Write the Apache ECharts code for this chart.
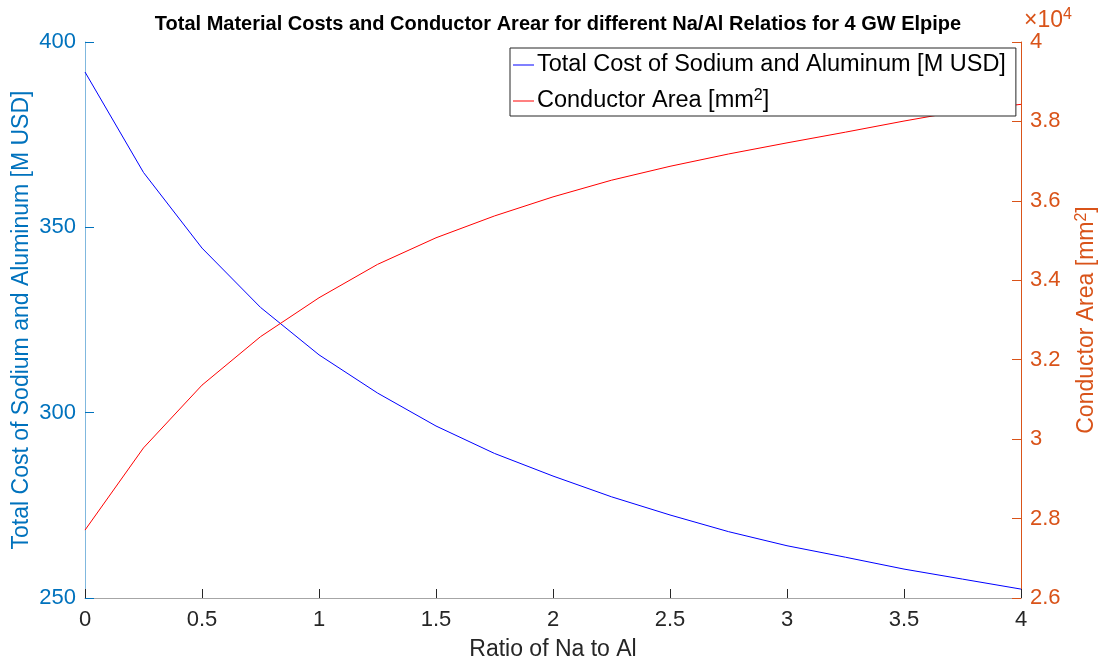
<!DOCTYPE html>
<html>
<head>
<meta charset="utf-8">
<script src="https://cdn.jsdelivr.net/npm/echarts@6/dist/echarts.min.js"></script>
<style>
  html, body { margin: 0; padding: 0; background: #fff; }
  #chart { width: 1102px; height: 663px; }
</style>
</head>
<body>
<div id="chart"></div>
<script>
// ratio of Na to Al (x axis)
const ratios = [0, 0.25, 0.5, 0.75, 1, 1.25, 1.5, 1.75, 2, 2.25, 2.5, 2.75, 3, 3.25, 3.5, 3.75, 4]
// total cost of sodium and aluminum [M USD]
const totalCost = [391.9, 364.8, 344.4, 328.4, 315.6, 305.3, 296.4, 289.0, 282.9, 277.3, 272.4, 267.9, 264.1, 261.0, 257.8, 255.1, 252.4]
// conductor area [mm^2]
const conductorArea = [27710, 29780, 31360, 32580, 33560, 34400, 35070, 35620, 36100, 36520, 36870, 37180, 37460, 37730, 38010, 38270, 38430]

const costTicks = { min: 250, max: 400, interval: 50 }
const areaTicks = { min: 26000, max: 40000, interval: 2000 }

const blueAxis = '#0072BD'
const orangeAxis = '#D95319'
const textColor = '#262626'
const font = 'Liberation Sans, Arial, Helvetica, sans-serif'

const chart = echarts.init(document.getElementById('chart'))

const option = {
  backgroundColor: '#fff',
  animation: false,
  title: {
    text: 'Total Material Costs and Conductor Arear for different Na/Al Relatios for 4 GW Elpipe',
    left: 553,
    textAlign: 'center',
    top: 9,
    textStyle: { fontFamily: font, fontSize: 20, fontWeight: 'bold', color: '#000' }
  },
  grid: { left: 85, right: 81, top: 42, bottom: 65, containLabel: false, outerBoundsMode: 'none' },
  legend: {
    orient: 'vertical',
    left: 510,
    top: 48,
    padding: [5, 10, 3, 3],
    itemGap: 11,
    itemWidth: 21,
    itemHeight: 1,
    backgroundColor: '#fff',
    borderColor: textColor,
    borderWidth: 1,
    borderRadius: 0,
    icon: 'rect',
    textStyle: {
      fontFamily: font,
      fontSize: 23.5,
      color: '#000',
      padding: [0, 0, 0, -2],
      rich: {
        t: { fontFamily: font, fontSize: 23.5, lineHeight: 24, color: '#000' },
        s: { fontFamily: font, fontSize: 16, color: '#000', verticalAlign: 'top', padding: [0, 0, 10, 0] }
      }
    },
    formatter: function (name) {
      if (name.indexOf('mm') >= 0) return '{t|Conductor Area [mm}{s|2}{t|]}'
      return '{t|' + name + '}'
    },
    data: ['Total Cost of Sodium and Aluminum [M USD]', 'Conductor Area [mm2]']
  },
  xAxis: {
    type: 'value',
    min: 0,
    max: 4,
    interval: 0.5,
    name: 'Ratio of Na to Al',
    nameLocation: 'middle',
    nameGap: 40,
    nameTextStyle: { fontFamily: font, fontSize: 23, color: textColor },
    axisLine: { show: true, lineStyle: { color: '#a6a6a6', width: 1 } },
    axisTick: { show: true, inside: true, length: 9, lineStyle: { color: textColor } },
    axisLabel: { fontFamily: font, fontSize: 22, color: textColor, margin: 11 },
    splitLine: { show: false }
  },
  yAxis: [
    {
      type: 'value',
      position: 'left',
      min: costTicks.min,
      max: costTicks.max,
      interval: costTicks.interval,
      name: 'Total Cost of Sodium and Aluminum [M USD]',
      nameLocation: 'middle',
      nameGap: 52,
      nameMoveOverlap: false,
      nameTextStyle: { fontFamily: font, fontSize: 23, color: blueAxis },
      axisLine: { show: true, lineStyle: { color: '#80b8de', width: 1 } },
      axisTick: { show: true, inside: true, length: 9, lineStyle: { color: blueAxis } },
      axisLabel: { fontFamily: font, fontSize: 22, color: blueAxis, margin: 9 },
      splitLine: { show: false }
    },
    {
      type: 'value',
      position: 'right',
      min: areaTicks.min,
      max: areaTicks.max,
      interval: areaTicks.interval,
      name: '{t|Conductor Area [mm}{s|2}{t|]}',
      nameLocation: 'middle',
      nameGap: 53,
      nameTextStyle: {
        fontFamily: font,
        fontSize: 23,
        color: orangeAxis,
        rich: {
          t: { fontFamily: font, fontSize: 23, color: orangeAxis },
          s: { fontFamily: font, fontSize: 16, color: orangeAxis, verticalAlign: 'top', padding: [0, 0, 10, 0] }
        }
      },
      axisLine: { show: true, lineStyle: { color: orangeAxis, width: 1 } },
      axisTick: { show: true, inside: true, length: 9, lineStyle: { color: orangeAxis } },
      axisLabel: {
        fontFamily: font,
        fontSize: 22,
        color: orangeAxis,
        margin: 9,
        formatter: v => String(+(v / 10000).toFixed(1))
      },
      splitLine: { show: false }
    }
  ],
  graphic: [
    {
      type: 'text',
      left: 1024,
      top: 7,
      style: {
        text: '×10{e|4}',
        fontFamily: font,
        fontSize: 23,
        fill: orangeAxis,
        rich: {
          e: { fontFamily: font, fontSize: 16, fill: orangeAxis, verticalAlign: 'top', padding: [0, 0, 12, 0] }
        }
      }
    }
  ],
  series: [
    {
      name: 'Total Cost of Sodium and Aluminum [M USD]',
      type: 'line',
      yAxisIndex: 0,
      data: ratios.map((r, i) => [r, totalCost[i]]),
      showSymbol: false,
      color: '#0000ff',
      lineStyle: { color: '#0000ff', width: 1 },
      z: 2
    },
    {
      name: 'Conductor Area [mm2]',
      type: 'line',
      yAxisIndex: 1,
      data: ratios.map((r, i) => [r, conductorArea[i]]),
      showSymbol: false,
      color: '#ff0000',
      lineStyle: { color: '#ff0000', width: 1 },
      z: 2
    }
  ]
}

chart.setOption(option)
</script>
</body>
</html>
